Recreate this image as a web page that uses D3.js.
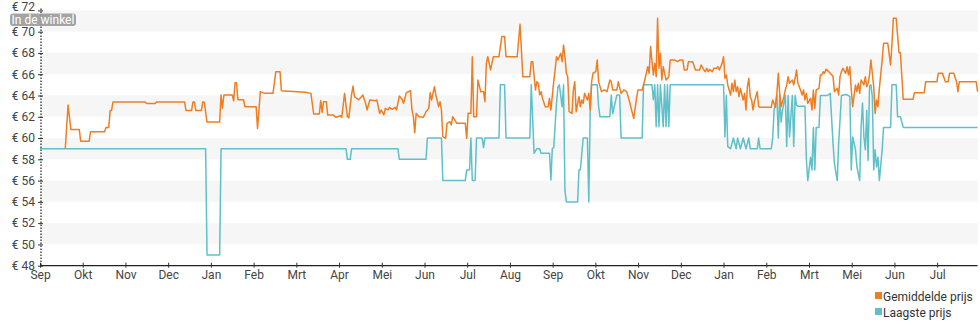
<!DOCTYPE html>
<html>
<head>
<meta charset="utf-8">
<script src="https://cdn.jsdelivr.net/npm/d3@7"></script>
<style>
  html, body { margin: 0; padding: 0; background: #fff; }
  svg { display: block; font-family: Roboto, "Noto Sans", sans-serif; }
</style>
</head>
<body>
<svg id="chart" width="980" height="325"></svg>
<script>
// ---------- DATA ----------
const startDate = new Date(2021, 8, 1);   // day 0
const totalDays = 668;
const tickLabels = ["Sep","Okt","Nov","Dec","Jan","Feb","Mrt","Apr","Mei","Jun","Jul","Aug",
                    "Sep","Okt","Nov","Dec","Jan","Feb","Mrt","Mei","Jun","Jul"];
const yTicks = [48,50,52,54,56,58,60,62,64,66,68,70,72];
const seriesNames = ["Gemiddelde prijs", "Laagste prijs"];
const badgeText = "In de winkel";

// Gemiddelde prijs: day offset / price
const avgDay = [18,20,22,28,29,35,36,46,47,49,50,51,52,75,76,82,83,103,104,108,109,110,111,115,116,117,119,128,129,130,131,137,138,139,140,141,145,146,154,155,157,160,166,168,171,172,189,193,195,199,200,201,202,204,205,209,211,214,215,217,219,220,222,223,224,227,228,230,232,233,235,239,240,242,243,245,246,248,249,251,253,254,256,258,259,261,264,265,266,267,268,270,273,274,275,277,278,279,281,282,284,285,286,287,289,290,292,293,294,297,303,304,305,307,308,309,311,312,314,316,317,318,319,321,323,327,329,331,332,340,342,344,349,350,351,353,354,355,356,357,358,360,362,363,364,366,367,368,369,371,372,373,374,375,376,377,379,380,381,382,384,385,386,387,388,390,391,392,393,394,396,397,398,400,402,404,406,407,408,411,412,414,416,418,420,423,425,426,429,430,432,433,434,435,437,438,439,440,441,442,443,444,446,448,449,452,454,456,458,459,461,462,465,467,470,471,473,474,475,476,477,479,480,482,483,484,486,487,488,489,490,492,493,494,495,496,497,498,499,501,502,503,504,505,506,507,508,509,511,512,513,521,522,524,525,526,527,528,530,531,532,533,534,536,537,538,539,540,541,543,544,545,546,547,549,550,551,552,553,555,556,557,558,559,560,562,563,565,566,568,569,570,571,572,574,575,576,577,578,579,581,582,583,584,585,587,588,589,590,591,592,593,594,595,596,597,598,600,601,604,606,607,608,610,612,613,615,622,623,630,631,639,640,643,645,647,648,651,653,654,655,667,668];
const avgPrice = [59.0,63.1,60.8,60.8,59.7,59.7,60.6,60.6,61.0,61.0,62.6,62.6,63.4,63.4,63.25,63.25,63.4,63.4,62.6,62.6,63.4,63.4,62.6,62.6,63.4,63.4,61.5,61.5,64.05,62.8,64.05,64.05,63.5,65.2,65.2,63.6,63.6,62.95,62.95,60.9,64.36,64.2,64.2,66.24,66.24,64.45,64.3,64.2,62.26,62.26,63.52,62.4,63.42,63.42,62.16,62.16,61.95,62.1,61.95,64.2,62.0,61.9,64.1,64.89,63.89,63.6,63.73,64.05,63.26,62.64,63.58,63.5,63.58,62.32,62.64,62.17,62.79,62.64,62.89,62.7,62.89,62.64,63.95,63.64,63.26,64.27,64.45,62.64,62.01,60.5,62.32,62.01,61.95,62.17,62.48,62.79,64.27,63.58,64.83,64.05,62.95,63.42,62.64,60.13,59.97,61.38,61.54,61.22,62.01,61.38,61.38,59.97,62.32,62.32,67.65,62.01,62.01,65.46,64.36,64.36,63.42,67.02,67.65,66.4,67.65,67.65,69.54,69.54,67.65,67.65,70.7,65.77,65.77,67.18,67.18,64.52,65.3,65.15,64.05,64.36,63.73,62.95,62.95,63.73,62.64,65.3,66.4,67.65,67.34,67.97,67.18,68.75,67.65,66.09,65.77,62.48,62.32,64.52,65.3,62.48,63.89,62.95,63.58,63.26,64.2,63.58,64.2,62.64,65.3,66.09,66.24,67.34,65.3,64.36,64.52,64.36,65.46,65.3,64.52,64.52,65.3,64.2,64.52,64.36,63.42,61.85,63.73,64.52,64.52,64.99,66.09,66.71,66.09,68.6,65.93,67.02,65.77,71.26,66.56,67.97,65.46,66.71,65.46,65.77,67.34,67.34,67.18,67.34,67.34,66.4,66.4,67.18,67.18,66.4,66.4,66.87,66.4,66.24,66.56,66.24,66.46,66.24,66.56,66.56,66.71,66.4,67.02,67.65,65.62,65.93,64.99,64.05,65.15,64.36,65.46,64.36,64.83,63.89,64.67,63.58,64.2,62.64,64.83,65.62,63.89,63.58,62.64,63.42,64.36,62.95,62.89,62.89,63.58,62.89,64.2,66.09,64.2,62.95,63.89,64.52,64.99,65.77,65.15,65.46,64.99,65.62,66.4,65.15,64.83,64.05,64.52,63.58,64.2,63.26,63.73,62.64,64.52,62.79,64.52,64.67,65.93,65.93,66.24,66.09,66.46,66.24,66.1,65.8,64.36,64.67,64.05,65.77,66.24,66.56,66.09,66.71,65.93,66.71,64.52,62.95,64.99,64.36,65.15,64.2,65.46,64.99,65.77,64.83,65.15,65.93,67.34,66.09,64.83,62.32,63.58,62.95,64.67,67.34,68.91,68.91,66.87,68.91,71.26,71.26,68.03,68.03,63.64,63.64,64.27,64.27,65.3,65.3,66.09,66.09,65.3,65.3,66.09,66.09,65.3,64.36,65.3,65.3,64.36];

// Laagste prijs: day offset / price
const lowDay = [0,118,119,128,129,218,219,221,222,255,256,275,276,286,287,303,304,306,307,308,310,311,315,316,317,327,328,331,332,349,350,352,354,356,357,363,364,365,366,368,369,370,372,373,374,375,383,384,385,387,390,391,392,393,397,398,399,406,407,408,411,413,414,429,430,436,437,438,439,440,441,442,444,445,446,447,448,449,487,488,489,490,492,494,496,497,499,501,503,505,506,511,512,513,521,522,523,525,526,527,528,529,531,532,533,534,536,537,538,539,540,545,546,547,549,550,551,552,553,555,556,561,563,565,566,568,569,571,574,576,577,578,579,581,582,584,585,586,587,588,589,590,591,592,593,594,595,596,597,598,600,601,606,607,610,611,613,615,668];
const lowPrice = [59,59,49,49,59,59,58,58,59,59,58,58,60,60,56,56,57,57,60,56,56,60,60,59.1,60,60,65,65,60,60,65,58.56,59,59,58.56,58.56,56.05,59,59.1,63.27,64.8,65,62.95,65,55.1,54,54,57,57,60,60,54,62.6,65,65,62.95,62,62,64.05,62.3,64.05,64.05,60,60,65,65,63.6,65,61.06,65,61.06,65,61.06,65,61.06,65,61.06,65,65,60.1,64,59.2,59,60,59,60,59,60,59,60,59,59,60,59,59,60,62.6,64,60,64,61.5,62.6,64,59.2,64,60.1,64,59.2,64,63.1,63,63,58,56,58.2,57,61,57,61,61,64,64,64.2,59.5,57.6,56,59.5,64,64.1,64,63.9,57,60.1,58.9,57.3,56,61.06,63.3,60.1,58.9,62.6,57.9,64.9,65,63.9,57,58.9,57.3,58.2,56,58.9,61,61,65,65,62,62,61,61];

// ---------- CHART ----------
const colors = ["#ef7d22", "#5ec0c9"];
const plotLeft = 40, plotRight = 977.6, plotTop = 10.4, plotBottom = 265.7;

const svg = d3.select("#chart");
const dayToDate = d => d3.timeDay.offset(startDate, d);

const x = d3.scaleTime()
  .domain([startDate, dayToDate(totalDays)])
  .range([plotLeft, plotRight]);
const y = d3.scaleLinear().domain([48, 72]).range([plotBottom, plotTop]);

// alternating bands
const bandIdx = d3.range(0, yTicks.length - 1).filter(i => i % 2 === 1);
svg.append("g").selectAll("rect").data(bandIdx).join("rect")
  .attr("x", plotLeft).attr("width", plotRight - plotLeft)
  .attr("y", i => y(yTicks[i + 1]))
  .attr("height", i => y(yTicks[i]) - y(yTicks[i + 1]))
  .attr("fill", "#f6f6f6");

// x ticks: evenly spaced (one per average month)
const msPerTick = 365.25 / 12 * 864e5;
const tickDates = tickLabels.map((_, k) => new Date(+startDate + k * msPerTick));

const xAxis = d3.axisBottom(x)
  .tickValues(tickDates)
  .tickFormat((d, i) => tickLabels[i])
  .tickSize(3)
  .tickPadding(2);
const gx = svg.append("g").attr("transform", `translate(0,${plotBottom})`).call(xAxis);
gx.select(".domain").attr("stroke", "#222").attr("stroke-width", 1.2)
  .attr("d", `M${plotLeft},0H${plotRight}`);
gx.selectAll(".tick line").attr("stroke", "#333").attr("y1", -3).attr("y2", 2);
gx.selectAll(".tick text").attr("fill", "#444").attr("font-size", 12)
  .attr("font-family", "Roboto, sans-serif");

const yAxis = d3.axisLeft(y)
  .tickValues(yTicks)
  .tickFormat(d => "€ " + d)
  .tickSize(4)
  .tickPadding(2);
const gy = svg.append("g").attr("transform", `translate(${plotLeft + 1},0)`).call(yAxis);
gy.select(".domain").remove();
gy.append("line")
  .attr("x1", 0).attr("x2", 0).attr("y1", plotTop - 2).attr("y2", plotBottom)
  .attr("stroke", "#222").attr("stroke-width", 1.2).attr("stroke-dasharray", "1.5,1.5");
gy.selectAll(".tick line").attr("stroke", "#333").attr("x1", -3).attr("x2", 2);
gy.selectAll(".tick text").attr("fill", "#444").attr("font-size", 12)
  .attr("font-family", "Roboto, sans-serif");
// top label sits slightly higher, as in the reference
gy.selectAll(".tick").filter(d => d === 72).select("text").attr("dy", "0.0em");

// lines
const line = d3.line().x(d => x(dayToDate(d[0]))).y(d => y(d[1]));
const lowData = d3.zip(lowDay, lowPrice);
const avgData = d3.zip(avgDay, avgPrice);
svg.append("path").datum(lowData).attr("d", line)
  .attr("fill", "none").attr("stroke", colors[1]).attr("stroke-width", 1.5)
  .attr("stroke-linejoin", "round");
svg.append("path").datum(avgData).attr("d", line)
  .attr("fill", "none").attr("stroke", colors[0]).attr("stroke-width", 1.5)
  .attr("stroke-linejoin", "round");

// badge (sits between the top two axis labels, as in the reference)
const badge = svg.append("g").attr("transform", "translate(10,13.5)");
badge.append("rect").attr("width", 66).attr("height", 12.5).attr("rx", 3)
  .attr("fill", "#9a9a9a").attr("fill-opacity", 0.9);
badge.append("text").attr("x", 33).attr("y", 10).attr("text-anchor", "middle")
  .attr("fill", "#fff").attr("font-size", 12).text(badgeText);

// legend
const lg = svg.append("g").attr("transform", "translate(875,0)");
seriesNames.forEach((name, i) => {
  const g = lg.append("g").attr("transform", `translate(0,${296 + i * 16})`);
  g.append("rect").attr("x", 0).attr("y", -4).attr("width", 7).attr("height", 7).attr("fill", colors[i]);
  g.append("text").attr("x", 8).attr("y", 4.5).attr("font-size", 12).attr("fill", "#333").text(name);
});
</script>
</body>
</html>
